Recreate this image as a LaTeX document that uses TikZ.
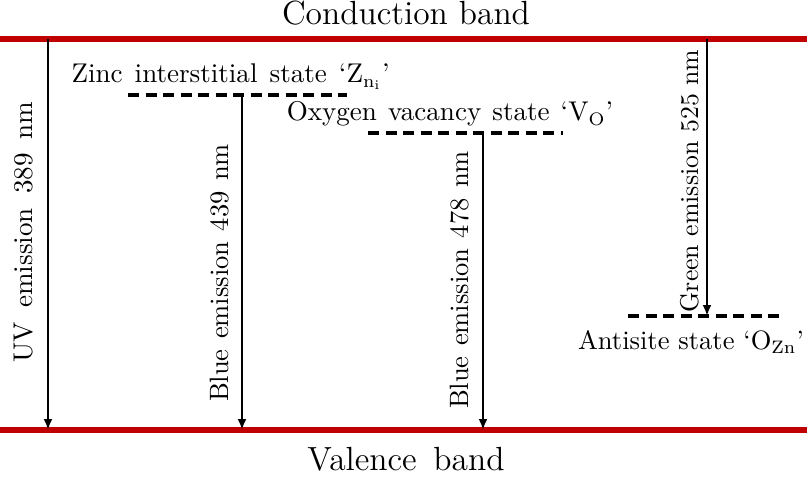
\documentclass[tikz,border=0pt]{standalone}
\usetikzlibrary{arrows.meta}
\definecolor{bandred}{RGB}{192,0,0}
\newcommand\wsp[1]{\spaceskip=#1\relax}
\tikzset{
  band/.style={draw=bandred, line width=2pt},
  trans/.style={draw=black, line width=0.85pt, -{Latex[length=4.2pt,width=3.4pt]}},
  level/.style={draw=black, line width=1.3pt, dash pattern=on 4.3pt off 2.5pt},
  lbl/.style={inner sep=0pt, anchor=base, font=\fontsize{10.5}{12}\selectfont},
  vlbl/.style={inner sep=0pt, anchor=base, rotate=90, font=\fontsize{10.3}{12}\selectfont},
  head/.style={inner sep=0pt, anchor=base, font=\fontsize{13}{15}\selectfont},
}
\begin{document}
\begin{tikzpicture}[x=0.388pt, y=-0.388pt]
\useasboundingbox (0,0) rectangle (809,480);
% bands
\coordinate (cbL) at (0,39); \coordinate (cbR) at (807,39);
\coordinate (vbL) at (0,430); \coordinate (vbR) at (807,430);
\draw[band] (cbL) -- (cbR);
\draw[band] (vbL) -- (vbR);
\node[head] (cb) at (406,25) {Conduction band};
\node[head] (vb) at (406,471) {Valence\hspace{6.5pt}band};
% levels
\coordinate (znL) at (128,95); \coordinate (znR) at (347,95);
\coordinate (voL) at (368,133); \coordinate (voR) at (563,133);
\coordinate (ozL) at (628,316); \coordinate (ozR) at (782,316);
\draw[level] (znL) -- (znR);
\draw[level] (voL) -- (voR);
\draw[level] (ozL) -- (ozR);
\node[lbl, anchor=base west] (zn) at (71,83) {\wsp{4.7pt}Zinc interstitial state `Z$_{\mathrm{n_i}}$'};
\node[lbl] (vo) at (450,121) {\wsp{4.3pt}Oxygen vacancy state `V$_{\mathrm{O}}$'};
\node[lbl, font=\fontsize{10.3}{12}\selectfont] (oz) at (691,350) {Antisite state `O$_{\mathrm{Zn}}$'};
% transitions
\coordinate (uvT) at (48,39); \coordinate (uvB) at (48,430);
\coordinate (b1T) at (242,95); \coordinate (b1B) at (242,430);
\coordinate (b2T) at (483,133); \coordinate (b2B) at (483,430);
\coordinate (gT) at (707,39); \coordinate (gB) at (707,316);
\draw[trans] (uvT) -- (uvB);
\draw[trans] (b1T) -- (b1B);
\draw[trans] (b2T) -- (b2B);
\draw[trans] (gT) -- (gB);
\node[vlbl, font=\fontsize{10.5}{12}\selectfont] (uv) at (33,232) {\wsp{5.5pt}UV emission 389 nm};
\node[vlbl] (b1) at (228,273) {\wsp{4pt}Blue emission 439 nm};
\node[vlbl] (b2) at (468,280) {\wsp{4pt}Blue emission 478 nm};
\node[vlbl, font=\fontsize{10}{12}\selectfont] (g) at (698,181) {Green emission 525 nm};
\end{tikzpicture}
\end{document}
